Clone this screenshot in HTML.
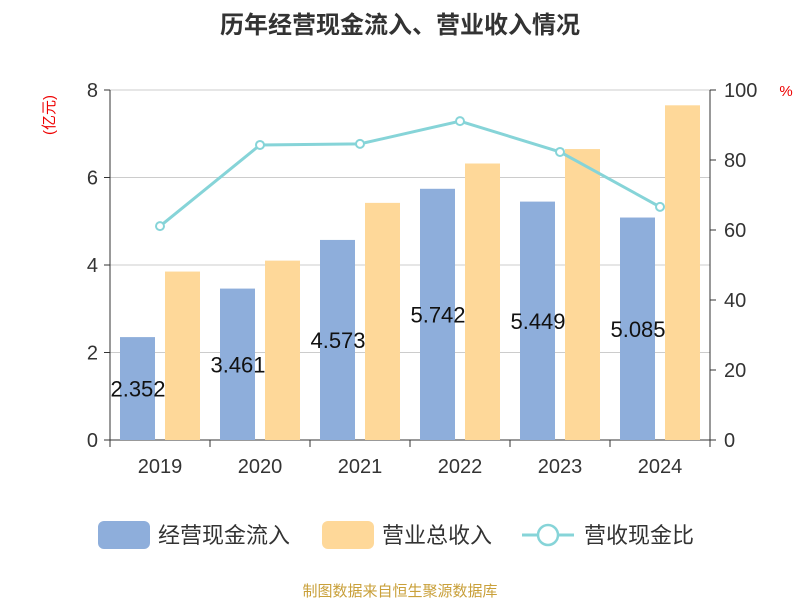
<!DOCTYPE html>
<html><head><meta charset="utf-8"><style>
body{margin:0;background:#fff;width:800px;height:600px;overflow:hidden}
text{font-family:"Liberation Sans","Noto Sans CJK SC",sans-serif}
</style></head><body>
<svg id="c" width="800" height="600">
<text x="400" y="33" text-anchor="middle" font-size="24" font-weight="bold" fill="#333">历年经营现金流入、营业收入情况</text>
<text x="0" y="0" transform="translate(54,115) rotate(-90)" text-anchor="middle" font-size="15" fill="#e00">(亿元)</text>
<text x="786" y="96" text-anchor="middle" font-size="15" fill="#e00">%</text>
<g id="grid"></g><g id="bars"></g><g id="line"></g><g id="axes"></g>
<g>
<rect x="98" y="521" width="52" height="28" rx="6" fill="#8eaedb"/>
<text x="158" y="543" font-size="22" fill="#333">经营现金流入</text>
<rect x="322" y="521" width="52" height="28" rx="6" fill="#fed899"/>
<text x="382" y="543" font-size="22" fill="#333">营业总收入</text>
<line x1="522" y1="535" x2="574" y2="535" stroke="#86d4d8" stroke-width="3"/>
<circle cx="548" cy="535" r="10" fill="#fff" stroke="#86d4d8" stroke-width="2.5"/>
<text x="584" y="543" font-size="22" fill="#333">营收现金比</text>
</g>
<text x="400" y="596" text-anchor="middle" font-size="15" fill="#c9a03a">制图数据来自恒生聚源数据库</text>
</svg>
<script>
const categories=["2019","2020","2021","2022","2023","2024"];
const cashInflow=[2.352,3.461,4.573,5.742,5.449,5.085];
const revenue=[3.85,4.1,5.42,6.32,6.65,7.65];
const ratio=[61.1,84.3,84.6,91.1,82.3,66.6];
const leftTicks=[0,2,4,6,8];
const rightTicks=[0,20,40,60,80,100];
const NS="http://www.w3.org/2000/svg";
const L=110,R=710,T=90,B=440;
const yL=v=>B-(v/8)*(B-T), yR=v=>B-(v/100)*(B-T);
const bw=(R-L)/categories.length, cx=i=>L+bw*(i+0.5);
function mk(p,tag,a){const e=document.createElementNS(NS,tag);for(const k in a)e.setAttribute(k,a[k]);document.getElementById(p).appendChild(e);return e;}
leftTicks.forEach(t=>{const g=mk('grid','line',{x1:L,x2:R,y1:yL(t),y2:yL(t),stroke:t?'#ccc':'#333','stroke-width':1});

const tx=mk('axes','text',{x:L-12,y:yL(t)+7,'text-anchor':'end','font-size':20,fill:'#333'});tx.textContent=t;
});
rightTicks.forEach(t=>{const tx=mk('axes','text',{x:R+14,y:yR(t)+7,'font-size':20,fill:'#333'});tx.textContent=t;

const tk=mk('axes','line',{x1:R,x2:R+6,y1:yR(t),y2:yR(t),stroke:'#333'});});
[[L,'left-axis'],[R,'right-axis']].forEach(([x,n])=>{const a=mk('axes','line',{x1:x,x2:x,y1:T,y2:B,stroke:'#333'});});
leftTicks.forEach(t=>{const tk=mk('axes','line',{x1:L-6,x2:L,y1:yL(t),y2:yL(t),stroke:'#333'});});
for(let i=0;i<=categories.length;i++){const tk=mk('axes','line',{x1:L+bw*i,x2:L+bw*i,y1:B,y2:B+7,stroke:'#333'});}
categories.forEach((c,i)=>{
const b=mk('bars','rect',{x:cx(i)-40,width:35,y:yL(cashInflow[i]),height:B-yL(cashInflow[i]),fill:'#8eaedb'});

const o=mk('bars','rect',{x:cx(i)+5,width:35,y:yL(revenue[i]),height:B-yL(revenue[i]),fill:'#fed899'});

const lb=mk('axes','text',{x:cx(i)-22,y:(yL(cashInflow[i])+B)/2+8,'text-anchor':'middle','font-size':22,fill:'#111'});lb.textContent=cashInflow[i].toFixed(3);

const xl=mk('axes','text',{x:cx(i),y:B+33,'text-anchor':'middle','font-size':20,fill:'#333'});xl.textContent=c;
});
const pl=mk('line','polyline',{points:ratio.map((v,i)=>cx(i)+','+yR(v)).join(' '),fill:'none',stroke:'#86d4d8','stroke-width':3});

ratio.forEach((v,i)=>{const p=mk('line','circle',{cx:cx(i),cy:yR(v),r:4,fill:'#fff',stroke:'#86d4d8','stroke-width':2});
});
</script>
</body></html>
